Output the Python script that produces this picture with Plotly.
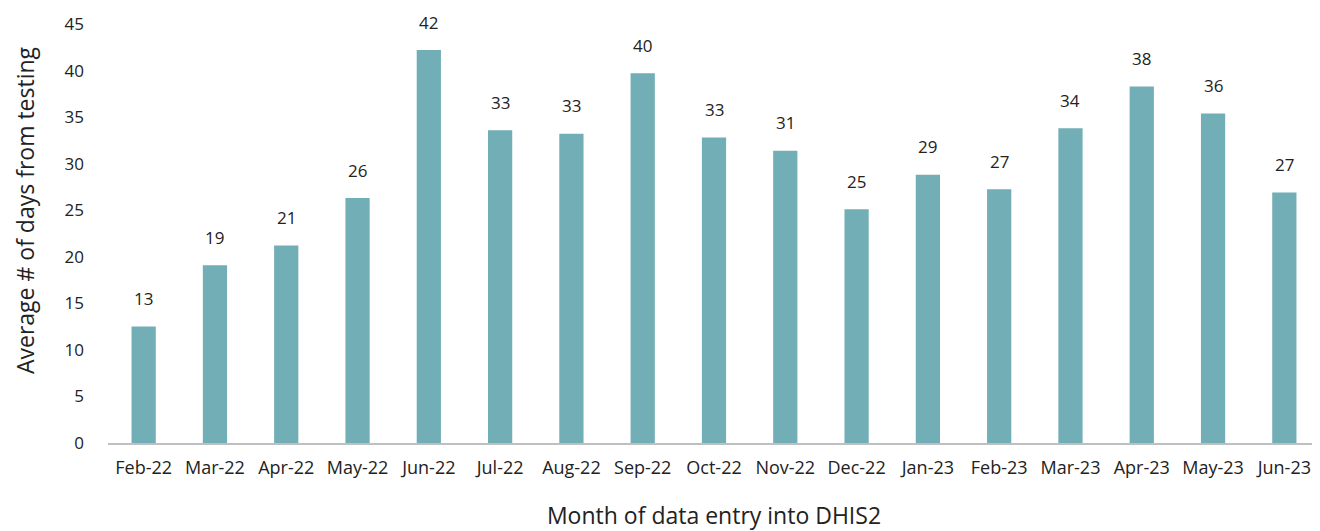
import plotly.graph_objects as go

months = ["Feb-22", "Mar-22", "Apr-22", "May-22", "Jun-22", "Jul-22", "Aug-22", "Sep-22",
          "Oct-22", "Nov-22", "Dec-22", "Jan-23", "Feb-23", "Mar-23", "Apr-23", "May-23", "Jun-23"]
avg_days = [12.5, 19.1, 21.2, 26.3, 42.2, 33.6, 33.2, 39.7, 32.8, 31.4, 25.1, 28.8, 27.25, 33.8, 38.3, 35.4, 26.9]
labels = ["13", "19", "21", "26", "42", "33", "33", "40", "33", "31", "25", "29", "27", "34", "38", "36", "27"]
y_ticks = [0, 5, 10, 15, 20, 25, 30, 35, 40, 45]

FONT = "'Open Sans', Lato, sans-serif"
fig = go.Figure()
fig.add_trace(go.Bar(x=months, y=avg_days, marker=dict(color="#72AEB5", line=dict(width=0)),
                     hoverinfo="x+y"))

for m, v, t in zip(months, avg_days, labels):
    fig.add_annotation(x=m, y=v, text=t, showarrow=False, yshift=28,
                       font=dict(family=FONT, size=17, color="#222222"))

# y-axis title placed as a rotated annotation (slightly above plot centre, as in the reference)
fig.add_annotation(xref="paper", yref="paper", x=-0.0685, y=0.556, text="Average # of days from testing",
                   textangle=-90, showarrow=False, xanchor="center", yanchor="middle",
                   font=dict(family=FONT, size=23, color="#222222"))

# the page body adds an 8px offset, so the figure is sized to 1312x523
fig.update_layout(
    width=1312, height=523,
    margin=dict(l=100, r=0, t=16, b=88),
    paper_bgcolor="white", plot_bgcolor="white",
    bargap=0.66,
    showlegend=False,
    font=dict(family=FONT, size=17, color="#222222"),
    xaxis=dict(showline=True, linecolor="#BFBFBF", linewidth=2, ticks="", showgrid=False,
               automargin=False,
               tickfont=dict(size=18), ticklabelstandoff=7,
               title=dict(text="Month of data entry into DHIS2", font=dict(size=23), standoff=34)),
    yaxis=dict(range=[0, 45], tickvals=y_ticks, showgrid=False, zeroline=False, showline=False,
               automargin=False,
               tickfont=dict(size=17), ticklabelstandoff=23),
)

fig.write_html("out.html")
